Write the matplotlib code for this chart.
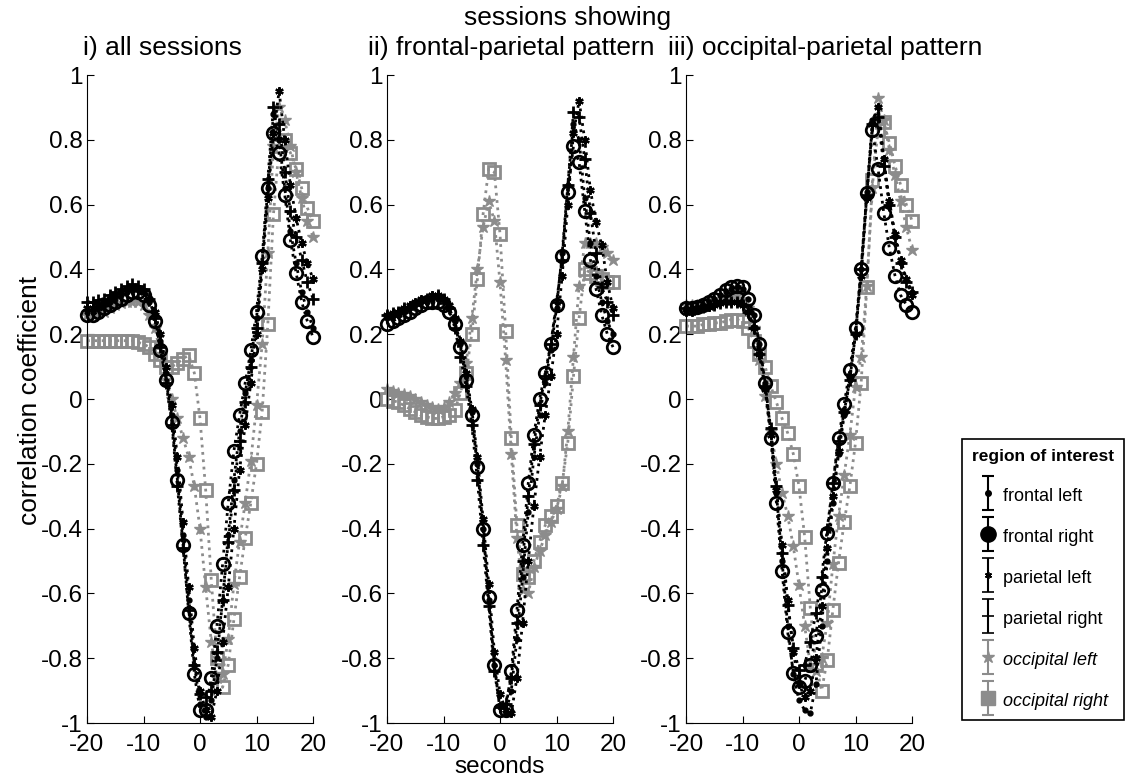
import numpy as np
import matplotlib
matplotlib.use("Agg")
import matplotlib.pyplot as plt
from matplotlib.container import ErrorbarContainer
from matplotlib.legend_handler import HandlerErrorbar

plt.rcParams['font.family'] = ['Liberation Sans', 'DejaVu Sans']
plt.rcParams['axes.unicode_minus'] = False

seconds = list(range(-20, 21))

# i) all sessions
p1_frontal_left = [0.27, 0.27, 0.28, 0.29, 0.30, 0.31, 0.32, 0.33, 0.335, 0.335, 0.33,
                   0.30, 0.26, 0.18, 0.08, -0.05, -0.22, -0.42, -0.62, -0.82,
                   -0.94, -0.98, -0.93, -0.80, -0.62, -0.42, -0.25, -0.10, 0.02, 0.12,
                   0.25, 0.42, 0.65, 0.88, 0.80, 0.65, 0.52, 0.42, 0.33, 0.27, 0.22]
p1_frontal_right = [0.26, 0.26, 0.27, 0.28, 0.29, 0.30, 0.31, 0.32, 0.33, 0.33, 0.32,
                    0.29, 0.24, 0.15, 0.06, -0.07, -0.25, -0.45, -0.66, -0.85,
                    -0.96, -0.96, -0.86, -0.70, -0.51, -0.32, -0.16, -0.05, 0.05, 0.15,
                    0.27, 0.44, 0.65, 0.82, 0.76, 0.63, 0.49, 0.39, 0.30, 0.24, 0.19]
p1_parietal_left = [0.28, 0.28, 0.29, 0.30, 0.31, 0.32, 0.33, 0.34, 0.345, 0.34, 0.33,
                    0.31, 0.27, 0.20, 0.10, -0.02, -0.18, -0.38, -0.58, -0.77,
                    -0.90, -0.96, -0.98, -0.90, -0.75, -0.58, -0.40, -0.22, -0.08, 0.05,
                    0.20, 0.40, 0.62, 0.82, 0.95, 0.80, 0.66, 0.56, 0.48, 0.42, 0.37]
p1_parietal_right = [0.30, 0.30, 0.305, 0.31, 0.32, 0.33, 0.34, 0.35, 0.355, 0.35, 0.34,
                     0.31, 0.25, 0.16, 0.05, -0.08, -0.27, -0.46, -0.65, -0.82,
                     -0.91, -0.92, -0.90, -0.78, -0.62, -0.44, -0.28, -0.13, -0.01, 0.10,
                     0.22, 0.42, 0.68, 0.90, 0.85, 0.70, 0.58, 0.50, 0.43, 0.36, 0.31]
p1_occipital_left = [0.26, 0.26, 0.265, 0.27, 0.28, 0.29, 0.295, 0.30, 0.30, 0.30, 0.29,
                     0.26, 0.22, 0.14, 0.06, 0.0, -0.06, -0.12, -0.18, -0.27,
                     -0.40, -0.58, -0.75, -0.86, -0.85, -0.74, -0.57, -0.44, -0.32, -0.19,
                     -0.02, 0.17, 0.45, 0.78, 0.90, 0.86, 0.78, 0.70, 0.62, 0.55, 0.50]
p1_occipital_right = [0.18, 0.18, 0.18, 0.18, 0.18, 0.18, 0.18, 0.18, 0.18, 0.175, 0.17,
                      0.16, 0.14, 0.12, 0.10, 0.10, 0.11, 0.125, 0.135, 0.08,
                      -0.06, -0.28, -0.56, -0.80, -0.89, -0.82, -0.68, -0.55, -0.43, -0.32,
                      -0.20, -0.04, 0.23, 0.57, 0.78, 0.80, 0.76, 0.71, 0.65, 0.59, 0.55]

# ii) frontal-parietal pattern
p2_frontal_left = [0.25, 0.255, 0.26, 0.27, 0.28, 0.29, 0.30, 0.30, 0.31, 0.31, 0.30,
                   0.28, 0.24, 0.17, 0.07, -0.04, -0.20, -0.40, -0.62, -0.82,
                   -0.95, -0.97, -0.90, -0.74, -0.55, -0.35, -0.18, -0.05, 0.05, 0.15,
                   0.28, 0.45, 0.66, 0.85, 0.80, 0.62, 0.48, 0.38, 0.30, 0.24, 0.20]
p2_frontal_right = [0.23, 0.24, 0.25, 0.26, 0.27, 0.28, 0.29, 0.30, 0.30, 0.30, 0.29,
                    0.27, 0.23, 0.16, 0.06, -0.05, -0.21, -0.40, -0.61, -0.82,
                    -0.96, -0.96, -0.84, -0.65, -0.45, -0.26, -0.11, 0.0, 0.08, 0.17,
                    0.29, 0.44, 0.64, 0.78, 0.73, 0.58, 0.43, 0.34, 0.26, 0.20, 0.16]
p2_parietal_left = [0.26, 0.265, 0.27, 0.28, 0.29, 0.30, 0.31, 0.31, 0.32, 0.32, 0.31,
                    0.29, 0.25, 0.18, 0.08, -0.03, -0.18, -0.37, -0.57, -0.78,
                    -0.91, -0.96, -0.97, -0.86, -0.69, -0.50, -0.33, -0.18, -0.05, 0.07,
                    0.20, 0.38, 0.60, 0.82, 0.92, 0.80, 0.645, 0.545, 0.475, 0.36, 0.28]
p2_parietal_right = [0.26, 0.265, 0.27, 0.28, 0.285, 0.29, 0.30, 0.31, 0.315, 0.32, 0.31,
                     0.28, 0.22, 0.13, 0.04, -0.08, -0.25, -0.45, -0.64, -0.84,
                     -0.95, -0.94, -0.86, -0.69, -0.50, -0.30, -0.14, -0.02, 0.07, 0.17,
                     0.30, 0.43, 0.66, 0.885, 0.87, 0.74, 0.575, 0.45, 0.345, 0.30, 0.26]
p2_occipital_left = [0.03, 0.025, 0.02, 0.015, 0.01, 0.0, -0.01, -0.02, -0.025, -0.03, -0.025,
                     -0.01, 0.02, 0.05, 0.11, 0.25, 0.40, 0.53, 0.61, 0.55,
                     0.36, 0.12, -0.17, -0.43, -0.59, -0.60, -0.52, -0.47, -0.42, -0.38,
                     -0.34, -0.27, -0.10, 0.13, 0.35, 0.48, 0.48, 0.48, 0.47, 0.45, 0.43]
p2_occipital_right = [0.0, -0.005, -0.01, -0.02, -0.03, -0.04, -0.05, -0.055, -0.06, -0.06, -0.055,
                      -0.05, -0.035, 0.02, 0.08, 0.20, 0.37, 0.57, 0.71, 0.70,
                      0.51, 0.21, -0.12, -0.39, -0.54, -0.55, -0.50, -0.44, -0.39, -0.36,
                      -0.33, -0.26, -0.135, 0.07, 0.25, 0.40, 0.39, 0.38, 0.37, 0.36, 0.36]

# iii) occipital-parietal pattern
p3_frontal_left = [0.28, 0.28, 0.285, 0.29, 0.30, 0.31, 0.32, 0.33, 0.34, 0.345, 0.34,
                   0.31, 0.26, 0.17, 0.05, -0.10, -0.29, -0.50, -0.70, -0.85,
                   -0.93, -0.96, -0.97, -0.88, -0.70, -0.50, -0.32, -0.17, -0.05, 0.06,
                   0.20, 0.40, 0.64, 0.86, 0.90, 0.74, 0.60, 0.50, 0.42, 0.37, 0.33]
p3_frontal_right = [0.28, 0.28, 0.285, 0.29, 0.30, 0.31, 0.32, 0.335, 0.345, 0.35, 0.345,
                    0.31, 0.26, 0.17, 0.05, -0.12, -0.32, -0.53, -0.72, -0.845,
                    -0.89, -0.87, -0.82, -0.73, -0.59, -0.415, -0.26, -0.12, -0.015, 0.09,
                    0.22, 0.40, 0.635, 0.83, 0.71, 0.575, 0.465, 0.38, 0.32, 0.29, 0.27]
p3_parietal_left = [0.27, 0.27, 0.275, 0.28, 0.285, 0.29, 0.295, 0.30, 0.30, 0.30, 0.29,
                    0.27, 0.22, 0.14, 0.03, -0.11, -0.28, -0.45, -0.62, -0.78,
                    -0.88, -0.92, -0.90, -0.80, -0.64, -0.46, -0.30, -0.16, -0.04, 0.07,
                    0.20, 0.38, 0.62, 0.85, 0.90, 0.74, 0.61, 0.51, 0.43, 0.37, 0.32]
p3_parietal_right = [0.28, 0.28, 0.28, 0.285, 0.29, 0.29, 0.295, 0.30, 0.30, 0.30, 0.29,
                     0.27, 0.22, 0.14, 0.04, -0.09, -0.27, -0.475, -0.635, -0.77,
                     -0.835, -0.82, -0.75, -0.66, -0.55, -0.40, -0.26, -0.13, -0.04, 0.06,
                     0.20, 0.40, 0.63, 0.85, 0.87, 0.72, 0.60, 0.50, 0.42, 0.36, 0.33]
p3_occipital_left = [0.29, 0.29, 0.29, 0.295, 0.30, 0.305, 0.31, 0.315, 0.32, 0.32, 0.31,
                     0.28, 0.22, 0.12, 0.01, -0.10, -0.20, -0.29, -0.36, -0.455,
                     -0.575, -0.70, -0.82, -0.84, -0.80, -0.69, -0.51, -0.36, -0.235, -0.11,
                     0.037, 0.13, 0.35, 0.65, 0.93, 0.86, 0.77, 0.69, 0.61, 0.53, 0.46]
p3_occipital_right = [0.225, 0.225, 0.225, 0.23, 0.23, 0.235, 0.235, 0.24, 0.245, 0.245, 0.24,
                      0.22, 0.18, 0.14, 0.10, 0.04, -0.01, -0.06, -0.105, -0.17,
                      -0.27, -0.425, -0.645, -0.82, -0.90, -0.805, -0.65, -0.505, -0.38, -0.27,
                      -0.135, 0.05, 0.345, 0.675, 0.83, 0.855, 0.79, 0.72, 0.66, 0.60, 0.55]

panel_titles = ["i) all sessions", "ii) frontal-parietal pattern", "iii) occipital-parietal pattern"]
roi_labels = ["frontal left", "frontal right", "parietal left", "parietal right",
              "occipital left", "occipital right"]
y_ticks = [-1, -0.8, -0.6, -0.4, -0.2, 0, 0.2, 0.4, 0.6, 0.8, 1]
x_ticks = [-20, -10, 0, 10, 20]

panels = [
    [p1_frontal_left, p1_frontal_right, p1_parietal_left, p1_parietal_right,
     p1_occipital_left, p1_occipital_right],
    [p2_frontal_left, p2_frontal_right, p2_parietal_left, p2_parietal_right,
     p2_occipital_left, p2_occipital_right],
    [p3_frontal_left, p3_frontal_right, p3_parietal_left, p3_parietal_right,
     p3_occipital_left, p3_occipital_right],
]

GRAY = '0.55'
asterisk = (6, 2, 0)
# plot styles per region (plot markers differ slightly from legend markers)
styles = [
    dict(color='k', marker='.', ms=7),
    dict(color='k', marker='o', ms=9, mfc='none', mew=2),
    dict(color='k', marker=asterisk, ms=6, mew=1.6),
    dict(color='k', marker='+', ms=9, mew=2),
    dict(color=GRAY, marker='*', ms=9),
    dict(color=GRAY, marker='s', ms=8, mfc='none', mew=2),
]
legend_styles = [
    dict(color='k', marker='.', ms=8),
    dict(color='k', marker='o', ms=11),
    dict(color='k', marker=asterisk, ms=5, mew=1.2),
    dict(color='k', marker='+', ms=8, mew=1.2),
    dict(color=GRAY, marker='*', ms=9),
    dict(color=GRAY, marker='s', ms=10),
]

W, H = 1126, 778
fig = plt.figure(figsize=(W / 100, H / 100), dpi=100)

lefts = [87, 387, 686]
title_x = [83, 368, 668]
axes = []
for k, left in enumerate(lefts):
    ax = fig.add_axes([left / W, (H - 723) / H, 226 / W, 648 / H])
    axes.append(ax)
    series = panels[k]
    # gray (occipital) first so black series sit on top
    for idx in [5, 4, 3, 2, 1, 0]:
        ax.plot(seconds, series[idx], linestyle=':', lw=2, clip_on=False, **styles[idx])
    ax.set_xlim(-20, 20)
    ax.set_ylim(-1, 1)
    ax.set_xticks(x_ticks)
    ax.set_yticks(y_ticks)
    ax.set_yticklabels([f"{v:g}" for v in y_ticks])
    for s in ['top', 'right']:
        ax.spines[s].set_visible(False)
    ax.tick_params(direction='in', length=5, labelsize=17.5, pad=3)
    ax.tick_params(axis='x', pad=8)
    ax.text((title_x[k] - left) / 226, 1 + 27 / 648, panel_titles[k],
            transform=ax.transAxes, ha='left', va='center', fontsize=19)

fig.text(568 / W, 1 - 18 / H, "sessions showing", ha='center', va='center', fontsize=19)
fig.text(30 / W, 1 - 400 / H, "correlation coefficient", rotation=90,
         ha='center', va='center', fontsize=19)
fig.text(500 / W, 1 - 767 / H, "seconds", ha='center', va='center', fontsize=17.5)

# legend with error-bar style handles
handles = []
for st in legend_styles:
    h = axes[2].errorbar([np.nan], [np.nan], yerr=[0.1], linestyle='none',
                         ecolor=st['color'], elinewidth=1.5, capsize=4.5, capthick=1.5, **st)
    handles.append(h)
leg = fig.legend(handles, roi_labels, loc='upper left',
                 bbox_to_anchor=(962 / W, 1 - 439 / H), title="region of interest",
                 title_fontproperties={'weight': 'bold', 'size': 12.5}, fontsize=13,
                 numpoints=1, handlelength=1.1, handletextpad=0.25, handleheight=1.2,
                 labelspacing=1.2, borderpad=0.55, borderaxespad=0, frameon=True,
                 fancybox=False, edgecolor='k', framealpha=1,
                 handler_map={ErrorbarContainer: HandlerErrorbar(yerr_size=0.95)})
leg.get_frame().set_linewidth(1.2)
for t in leg.get_texts()[4:]:
    t.set_style('italic')

fig.savefig("out.png", dpi=100)
